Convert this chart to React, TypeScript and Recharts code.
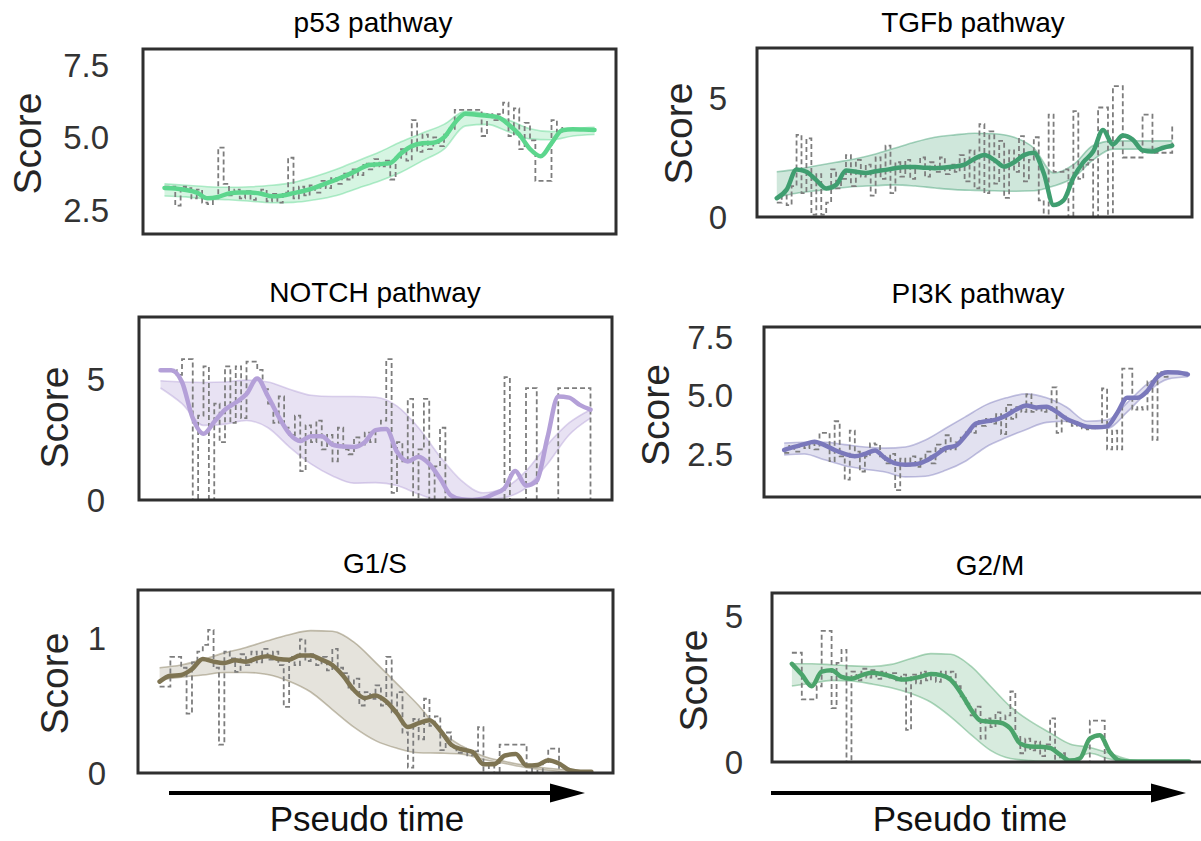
import React from 'react';
import { ComposedChart, Line, Area, XAxis, YAxis, ReferenceArea } from 'recharts';

const FONT = '"Liberation Sans", Arial, Helvetica, sans-serif';

// values, pseudo time runs 0..100 across each panel
// smooth curves: 41 points, bands: 21 points, raw (dashed step) lines: 81 points

const P53_SMOOTH = [3.26, 3.24, 3.19, 3.1, 2.9, 2.95, 3.07, 3.1, 3.1, 3.06, 2.97, 3.0, 3.08, 3.16, 3.27, 3.41, 3.55, 3.7, 3.88, 4.05, 4.08, 4.12, 4.45, 4.7, 4.8, 4.82, 5.0, 5.5, 5.82, 5.78, 5.75, 5.7, 5.45, 5.1, 4.6, 4.35, 4.8, 5.25, 5.28, 5.27, 5.26];
const P53_LOW = [2.98, 2.95, 2.88, 2.85, 2.8, 2.75, 2.76, 2.85, 3.0, 3.25, 3.5, 3.8, 4.2, 4.6, 5.4, 5.45, 5.2, 4.95, 4.92, 5.05, 5.1];
const P53_HIGH = [3.4, 3.35, 3.3, 3.28, 3.3, 3.35, 3.45, 3.65, 3.9, 4.2, 4.5, 4.85, 5.15, 5.45, 5.9, 5.82, 5.6, 5.3, 5.2, 5.3, 5.35];
const P53_RAW = [
  3.3, 3.3, 2.65, 3.3, 3.25, 2.9, 3.2, 2.75, 2.7, 2.9,
  4.65, 3.4, 3.0, 3.2, 2.9, 3.15, 2.85, 3.1, 3.2, 2.8,
  3.05, 2.75, 3.1, 4.3, 2.9, 3.3, 3.0, 3.35, 3.1, 3.5,
  3.25, 3.6, 3.4, 3.75, 3.55, 3.9, 3.7, 4.1, 3.9, 4.25,
  4.0, 4.2, 3.55, 4.3, 4.6, 4.2, 5.6, 4.5, 5.1, 4.6,
  5.0, 4.7, 5.1, 5.3, 5.95, 5.95, 5.95, 5.95, 5.95, 5.05,
  5.8, 5.6, 5.8, 6.2, 5.05, 6.0, 4.6, 5.5, 4.9, 3.5,
  3.5, 3.5, 5.6, 5.2, 5.4, null, null, null, null, null,
  null,
];

const TGFB_SMOOTH = [0.79, 1.15, 2.0, 1.9, 1.55, 1.2, 1.35, 1.95, 1.9, 1.85, 1.92, 1.98, 2.05, 2.1, 2.1, 2.07, 2.05, 2.08, 2.12, 2.2, 2.45, 2.6, 2.4, 2.12, 2.3, 2.6, 2.7, 1.85, 0.5, 0.7, 1.65, 2.3, 2.75, 3.65, 3.05, 3.42, 3.25, 2.8, 2.75, 2.9, 3.0];
const TGFB_LOW = [0.85, 1.0, 1.1, 1.2, 1.28, 1.32, 1.35, 1.3, 1.22, 1.15, 1.12, 1.1, 1.08, 1.1, 1.3, 1.65, 2.4, 2.85, 2.85, 2.88, 2.9];
const TGFB_HIGH = [1.9, 2.0, 2.15, 2.3, 2.45, 2.65, 2.9, 3.15, 3.35, 3.45, 3.52, 3.5, 3.35, 2.9, 1.85, 2.2, 3.0, 3.2, 3.2, 3.2, 3.2];
const TGFB_RAW = [
  0.6, 0.9, 0.5, 1.3, 3.45, 1.0, 3.3, 0.1, 1.8, 0.1,
  0.6, 2.0, 1.2, 1.6, 2.6, 1.3, 2.4, 1.7, 2.2, 0.9,
  2.5, 1.6, 3.0, 1.0, 2.3, 1.7, 2.4, 1.6, 2.1, 2.5,
  1.7, 2.3, 1.9, 2.5, 1.8, 2.2, 1.9, 2.6, 1.5, 2.8,
  1.2, 3.9, 1.0, 3.6, 1.4, 3.2, 0.8, 2.8, 1.9, 3.4,
  1.5, 2.4, 3.35, 0.7, 0.0, 4.3, 1.9, 1.9, 2.0, 0.0,
  4.45, 1.6, 2.2, 2.4, 0.0, 4.6, 4.6, 0.0, 5.5, 5.5,
  2.5, 2.5, 2.5, 2.5, 4.3, 4.3, 2.7, 2.7, 2.7, 2.7,
  3.8,
];

const NOTCH_SMOOTH = [5.39, 5.39, 4.9, 3.4, 2.75, 3.25, 3.75, 4.05, 4.4, 5.05, 4.3, 3.45, 2.75, 2.45, 2.65, 2.65, 2.3, 2.22, 2.2, 2.4, 2.9, 2.95, 2.0, 1.6, 1.8, 1.5, 0.9, 0.2, 0.03, 0.0, 0.05, 0.25, 0.49, 1.2, 0.6, 0.8, 2.6, 4.3, 4.25, 3.95, 3.75];
const NOTCH_LOW = [4.65, 4.0, 3.1, 3.15, 3.3, 3.0, 2.2, 1.5, 1.0, 0.7, 0.72, 0.6, 0.25, 0.0, 0.0, 0.0, 0.1, 0.5, 1.5, 2.7, 3.4];
const NOTCH_HIGH = [4.95, 4.9, 4.88, 4.9, 4.98, 4.9, 4.6, 4.35, 4.3, 4.3, 4.27, 3.9, 3.0, 1.8, 0.8, 0.3, 0.5, 1.2, 2.3, 3.2, 3.75];
const NOTCH_RAW = [
  5.4, 5.4, 5.4, 5.2, 5.85, 5.85, 0.0, 3.5, 5.55, 0.0,
  4.0, 2.4, 5.55, 3.2, 5.55, 3.4, 5.75, 5.75, 5.4, 4.6,
  4.0, 3.2, 4.3, 3.0, 2.7, 3.5, 1.2, 3.1, 2.4, 3.3,
  2.1, 2.7, 1.6, 3.0, 2.1, 1.9, 2.6, 2.3, 2.8, 2.4,
  2.9, 3.3, 5.85, 0.3, 2.4, 1.6, 4.2, 0.0, 2.1, 4.2,
  0.0, 1.4, 3.0, 0.0, 0.0, 0.0, 0.0, 0.0, 0.0, 0.0,
  0.0, 0.0, 0.0, 0.0, 5.1, 0.0, 0.0, 0.0, 4.65, 4.65,
  0.0, 0.0, 0.0, 0.0, 4.65, 4.65, 4.65, 4.65, 4.65, 4.65,
  0.0,
];

const PI3K_SMOOTH = [2.67, 2.8, 2.92, 3.02, 2.88, 2.67, 2.5, 2.4, 2.5, 2.65, 2.32, 2.1, 2.04, 2.06, 2.2, 2.45, 2.75, 2.85, 3.3, 3.8, 3.9, 3.97, 4.15, 4.4, 4.57, 4.49, 4.52, 4.3, 4.0, 3.82, 3.67, 3.64, 3.68, 4.25, 4.9, 4.9, 5.2, 5.8, 6.0, 5.98, 5.9];
const PI3K_LOW = [2.46, 2.5, 2.25, 2.0, 1.85, 1.73, 1.52, 1.55, 1.8, 2.2, 2.8, 3.2, 3.55, 3.85, 3.9, 3.6, 3.6, 4.3, 5.15, 5.7, 5.8];
const PI3K_HIGH = [2.97, 3.0, 3.0, 2.9, 2.8, 2.75, 2.8, 3.1, 3.6, 4.1, 4.6, 4.9, 5.07, 4.9, 4.5, 3.9, 3.95, 4.7, 5.5, 5.95, 6.0];
const PI3K_RAW = [
  2.55, 2.85, 2.6, 2.9, 2.75, 2.95, 2.7, 3.4, 3.4, 2.2,
  3.9, 2.4, 1.4, 3.5, 2.6, 1.75, 2.4, 2.95, 2.9, 2.4,
  2.1, 2.5, 0.95, 2.3, 2.0, 2.4, 1.95, 2.3, 2.6, 2.1,
  2.9, 2.6, 3.3, 2.7, 3.0, 3.2, 3.5, 3.4, 3.9, 3.7,
  4.0, 3.8, 4.2, 3.35, 4.6, 4.0, 4.5, 4.3, 5.05, 4.3,
  4.5, 4.3, 4.4, 5.35, 3.4, 4.1, 3.9, 3.7, 3.8, 3.6,
  3.55, 3.6, 3.7, 5.3, 2.7, 3.5, 2.7, 6.15, 6.15, 4.4,
  4.5, 4.4, 5.6, 3.1, 6.0, 5.8, 5.95, null, null, null,
  null,
];

const G1S_SMOOTH = [0.677, 0.72, 0.726, 0.77, 0.845, 0.825, 0.815, 0.835, 0.825, 0.85, 0.865, 0.845, 0.84, 0.87, 0.87, 0.84, 0.8, 0.72, 0.615, 0.555, 0.575, 0.53, 0.44, 0.34, 0.37, 0.39, 0.315, 0.21, 0.175, 0.155, 0.065, 0.065, 0.13, 0.14, 0.055, 0.06, 0.095, 0.07, 0.02, 0.01, 0.01];
const G1S_LOW = [0.69, 0.71, 0.726, 0.745, 0.745, 0.73, 0.68, 0.6, 0.47, 0.34, 0.24, 0.183, 0.15, 0.147, 0.14, 0.1, 0.07, 0.04, 0.02, 0.005, 0.0];
const G1S_HIGH = [0.78, 0.8, 0.84, 0.89, 0.93, 0.98, 1.025, 1.055, 1.05, 0.97, 0.82, 0.66, 0.5, 0.31, 0.2, 0.125, 0.085, 0.055, 0.035, 0.02, 0.01];
const G1S_RAW = [
  0.64, 0.64, 0.86, 0.86, 0.78, 0.44, 0.82, 0.9, 0.95, 1.06,
  0.78, 0.21, 0.9, 0.85, 0.75, 0.88, 0.8, 0.9, 0.82, 0.92,
  0.84, 0.9, 0.8, 0.49, 0.86, 0.8, 0.99, 0.83, 0.88, 0.8,
  0.86, 0.76, 0.92, 0.78, 0.74, 0.62, 0.7, 0.5, 0.6, 0.55,
  0.65, 0.5, 0.86, 0.45, 0.6, 0.3, 0.04, 0.4, 0.25, 0.55,
  0.35, 0.42, 0.17, 0.3, 0.2, 0.15, 0.18, 0.13, 0.16, 0.34,
  0.0, 0.06, 0.0, 0.21, 0.21, 0.21, 0.21, 0.21, 0.0, 0.05,
  0.0, 0.08, 0.18, 0.18, 0.0, null, null, null, null, null,
  null,
];

const G2M_SMOOTH = [3.37, 3.0, 2.6, 3.1, 3.15, 2.92, 2.86, 2.97, 3.06, 3.02, 2.94, 2.83, 2.86, 2.93, 3.02, 2.98, 2.82, 2.38, 1.82, 1.42, 1.38, 1.35, 1.15, 0.63, 0.53, 0.52, 0.48, 0.25, 0.05, 0.12, 0.8, 0.92, 0.35, 0.05, 0.02, 0.02, 0.02, 0.02, 0.02, 0.02, 0.02];
const G2M_LOW = [2.61, 2.7, 2.8, 2.78, 2.68, 2.55, 2.35, 2.05, 1.55, 0.95, 0.4, 0.12, 0.05, 0.02, 0.05, 0.3, 0.1, 0.0, 0.0, 0.0, 0.0];
const G2M_HIGH = [3.37, 3.37, 3.34, 3.3, 3.28, 3.35, 3.55, 3.72, 3.7, 3.3, 2.6, 1.9, 1.4, 1.0, 0.62, 0.5, 0.3, 0.08, 0.03, 0.02, 0.02];
const G2M_RAW = [
  3.75, 3.75, 2.15, 2.15, 2.15, 2.6, 4.5, 4.5, 1.85, 3.4,
  3.85, 0.0, 3.1, 2.8, 3.2, 2.9, 3.15, 2.85, 3.1, 2.9,
  3.05, 2.8, 3.0, 1.1, 3.0, 2.7, 3.1, 2.8, 3.05, 2.75,
  3.1, 2.9, 3.1, 2.6, 2.2, 2.0, 1.6, 1.9, 0.8, 1.5,
  1.2, 1.7, 1.3, 1.6, 2.42, 0.9, 0.3, 0.8, 0.4, 0.7,
  0.2, 0.6, 1.5, 0.0, 0.3, 0.0, 0.0, 0.0, 0.0, 0.0,
  1.42, 1.42, 1.42, 0.0, null, null, null, null, null, null,
  null, null, null, null, null, null, null, null, null, null,
  null,
];

const TITLES = ['p53 pathway', 'TGFb pathway', 'NOTCH pathway', 'PI3K pathway', 'G1/S', 'G2/M'];
const Y_TICKS = [[2.5, 5, 7.5], [0, 5], [0, 5], [2.5, 5, 7.5], [0, 1], [0, 5]];
const Y_DOMAINS = [[1.67, 8.05], [0, 7.1], [0, 7.6], [0.66, 7.93], [0, 1.356], [0, 5.8]];
const TICK_DECIMALS = [1, 0, 0, 1, 0, 0];
const SMOOTHS = [P53_SMOOTH, TGFB_SMOOTH, NOTCH_SMOOTH, PI3K_SMOOTH, G1S_SMOOTH, G2M_SMOOTH];
const LOWS = [P53_LOW, TGFB_LOW, NOTCH_LOW, PI3K_LOW, G1S_LOW, G2M_LOW];
const HIGHS = [P53_HIGH, TGFB_HIGH, NOTCH_HIGH, PI3K_HIGH, G1S_HIGH, G2M_HIGH];
const RAWS = [P53_RAW, TGFB_RAW, NOTCH_RAW, PI3K_RAW, G1S_RAW, G2M_RAW];
const X_LABEL = 'Pseudo time';

const COLORS = ['#5cd68d', '#3f9e70', '#b4a0d8', '#7a78bb', '#7e7452', '#4ba46b'];
const BAND_OPACITY = [0.25, 0.25, 0.3, 0.22, 0.2, 0.22];

// page geometry of each panel frame
const LAYOUT = [
  { col: 0, boxL: 143, boxR: 616, boxT: 49, boxB: 234, gap: 34, scoreX: 27, scoreDy: 2, titleX: 373, titleY: 32 },
  { col: 620, boxL: 757, boxR: 1192, boxT: 48, boxB: 217, gap: 30, scoreX: 678, scoreDy: 1, titleX: 973, titleY: 32 },
  { col: 0, boxL: 139, boxR: 612, boxT: 317, boxB: 500, gap: 34, scoreX: 54, scoreDy: 9, titleX: 375, titleY: 302 },
  { col: 620, boxL: 764, boxR: 1208, boxT: 327, boxB: 497, gap: 31, scoreX: 655, scoreDy: 3, titleX: 978, titleY: 303 },
  { col: 0, boxL: 138, boxR: 613, boxT: 590, boxB: 773, gap: 32, scoreX: 54, scoreDy: 2, titleX: 375, titleY: 573 },
  { col: 620, boxL: 772, boxR: 1209, boxT: 593, boxB: 762, gap: 29, scoreX: 693, scoreDy: 3, titleX: 990, titleY: 575 },
];
const ARROWS = [
  { x0: 169, x1: 585, y: 793, textX: 367 },
  { x0: 771, x1: 1186, y: 793, textX: 970 },
];

const toSeries = (vals: (number | null)[]) =>
  vals.map((v, i) => ({ t: (i * 100) / (vals.length - 1), v }));
const toBand = (lo: number[], hi: number[]) =>
  lo.map((l, i) => ({ t: (i * 100) / (lo.length - 1), range: [l, hi[i]] }));

const SCORE_SIZE = 39;

function ScoreLabel({ px, py }: any) {
  // baseline sits on the right once rotated, shift so the glyphs centre on px
  const bx = px + 0.358 * SCORE_SIZE;
  return (
    <text
      x={bx}
      y={py}
      transform={`rotate(-90 ${bx} ${py})`}
      textAnchor="middle"
      fontSize={SCORE_SIZE}
      fontFamily={FONT}
      fill="#262626"
    >
      Score
    </text>
  );
}

function Panel({ idx }: { idx: number }) {
  const L = LAYOUT[idx];
  const top = 30;
  const bottom = 30;
  const right = 12;
  const width = L.boxR - L.col + right;
  const height = L.boxB - L.boxT + top + bottom;
  const [d0, d1] = Y_DOMAINS[idx];
  const color = COLORS[idx];

  return (
    <div style={{ position: 'absolute', left: L.col, top: L.boxT - top }}>
      <ComposedChart width={width} height={height} margin={{ top, right, bottom, left: 0 }}>
        <XAxis type="number" dataKey="t" domain={[-5, 105]} allowDataOverflow hide />
        <YAxis
          type="number"
          domain={[d0, d1]}
          allowDataOverflow
          ticks={Y_TICKS[idx]}
          interval={0}
          width={L.boxL - L.col}
          tickLine={false}
          axisLine={false}
          tickSize={0}
          tickMargin={L.gap}
          tick={{ fontSize: 33, fill: '#333333', fontFamily: FONT }}
          tickFormatter={(v: number) => v.toFixed(TICK_DECIMALS[idx])}
          label={<ScoreLabel px={L.scoreX - L.col} py={top + (L.boxB - L.boxT) / 2 + L.scoreDy} />}
        />
        <Area
          data={toBand(LOWS[idx], HIGHS[idx])}
          dataKey="range"
          type="monotone"
          fill={color}
          fillOpacity={BAND_OPACITY[idx]}
          stroke={color}
          strokeOpacity={0.45}
          strokeWidth={1.6}
          dot={false}
          activeDot={false}
          isAnimationActive={false}
        />
        <Line
          data={toSeries(RAWS[idx])}
          dataKey="v"
          type="stepAfter"
          stroke="#7d7d7d"
          strokeWidth={1.8}
          strokeDasharray="5 3"
          dot={false}
          activeDot={false}
          isAnimationActive={false}
        />
        <Line
          data={toSeries(SMOOTHS[idx])}
          dataKey="v"
          type="monotone"
          stroke={color}
          strokeWidth={4.5}
          strokeLinecap="round"
          dot={false}
          activeDot={false}
          isAnimationActive={false}
        />
        <ReferenceArea
          x1={-5}
          x2={105}
          y1={d0}
          y2={d1}
          ifOverflow="visible"
          fill="none"
          fillOpacity={0}
          stroke="#2f2f2f"
          strokeWidth={3}
          zIndex={1000}
        />
      </ComposedChart>
    </div>
  );
}

export default function App() {
  return (
    <div
      style={{
        position: 'absolute',
        left: 0,
        top: 0,
        width: 1201,
        height: 841,
        overflow: 'hidden',
        background: '#ffffff',
        fontFamily: FONT,
      }}
    >
      {LAYOUT.map((_, i) => (
        <Panel key={i} idx={i} />
      ))}
      <svg width={1201} height={841} style={{ position: 'absolute', left: 0, top: 0, pointerEvents: 'none' }}>
        {LAYOUT.map((L, i) => (
          <text key={i} x={L.titleX} y={L.titleY} textAnchor="middle" fontSize={28} fontFamily={FONT} fill="#000">
            {TITLES[i]}
          </text>
        ))}
        {ARROWS.map((a, i) => (
          <g key={i}>
            <line x1={a.x0} y1={a.y} x2={a.x1 - 32} y2={a.y} stroke="#000" strokeWidth={4} />
            <polygon points={`${a.x1 - 35},${a.y - 9.5} ${a.x1},${a.y} ${a.x1 - 35},${a.y + 9.5}`} fill="#000" />
            <text x={a.textX} y={831} textAnchor="middle" fontSize={35} fontFamily={FONT} fill="#111">
              {X_LABEL}
            </text>
          </g>
        ))}
      </svg>
    </div>
  );
}
